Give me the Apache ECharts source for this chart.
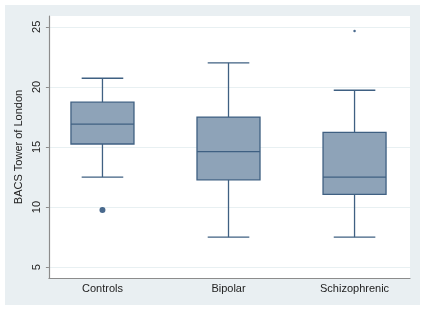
<!DOCTYPE html>
<html>
<head>
<meta charset="utf-8">
<script src="https://cdn.jsdelivr.net/npm/echarts@6/dist/echarts.min.js"></script>
<style>
    html, body { margin: 0; padding: 0; background: #fff; }
    #wrap { position: absolute; left: 0; top: 0; width: 426px; height: 311px; background: #fff; }
    #main { position: absolute; left: 5px; top: 5px; width: 415px; height: 300px; background: #e9eff2; }
</style>
</head>
<body>
<div id="wrap"><div id="main"></div></div>
<script>
// 数据
var categories = ['Controls', 'Bipolar', 'Schizophrenic'];
var lowWhisker = [12.5, 7.5, 7.5];
var q1 = [15.25, 12.27, 11.05];
var median = [16.9, 14.62, 12.5];
var q3 = [18.73, 17.49, 16.22];
var highWhisker = [20.72, 22.0, 19.72];
// [组序号, 数值]
var outliers = [[0, 9.75], [2, 24.65]];
var yTicks = [5, 10, 15, 20, 25];

var boxFill = '#8ea3b8';
var boxLine = '#3f6082';

init()

function init() {
    var myChart = echarts.init(document.getElementById('main'));

    var boxData = categories.map(function(c, i) {
        return [i + 1, lowWhisker[i], q1[i], median[i], q3[i], highWhisker[i]];
    });

    function renderBox(params, api) {
        var x = api.value(0);
        var halfBox = 0.25, halfCap = 0.165;
        var pLow = api.coord([x, api.value(1)]);
        var pQ1 = api.coord([x, api.value(2)]);
        var pMed = api.coord([x, api.value(3)]);
        var pQ3 = api.coord([x, api.value(4)]);
        var pHigh = api.coord([x, api.value(5)]);
        var left = api.coord([x - halfBox, 0])[0];
        var right = api.coord([x + halfBox, 0])[0];
        var capL = api.coord([x - halfCap, 0])[0];
        var capR = api.coord([x + halfCap, 0])[0];
        var ls = { stroke: boxLine, lineWidth: 1.3 };
        return {
            type: 'group',
            children: [
                { type: 'line', shape: { x1: pQ3[0], y1: pQ3[1], x2: pHigh[0], y2: pHigh[1] }, style: ls },
                { type: 'line', shape: { x1: pQ1[0], y1: pQ1[1], x2: pLow[0], y2: pLow[1] }, style: ls },
                { type: 'line', shape: { x1: capL, y1: pHigh[1], x2: capR, y2: pHigh[1] }, style: ls },
                { type: 'line', shape: { x1: capL, y1: pLow[1], x2: capR, y2: pLow[1] }, style: ls },
                { type: 'rect', shape: { x: left, y: pQ3[1], width: right - left, height: pQ1[1] - pQ3[1] },
                  style: { fill: boxFill, stroke: boxLine, lineWidth: 1.3 } },
                { type: 'line', shape: { x1: left, y1: pMed[1], x2: right, y2: pMed[1] }, style: ls }
            ]
        };
    }

    var option = {
        animation: false,
        grid: {
            left: 41, top: 11, width: 364, height: 262,
            show: true, backgroundColor: '#fff', borderWidth: 0
        },
        xAxis: {
            type: 'value',
            min: 0.575,
            max: 3.44,
            axisLine: { show: true, onZero: false, lineStyle: { color: '#8c8c8c', width: 1.2 } },
            axisTick: { show: false },
            splitLine: { show: false },
            axisLabel: {
                customValues: [1, 2, 3],
                formatter: function(v) { return categories[Math.round(v) - 1] || ''; },
                color: '#222',
                fontFamily: 'Liberation Sans',
                fontSize: 11,
                margin: 5
            }
        },
        yAxis: {
            type: 'value',
            min: 4.1,
            max: 25.9,
            name: 'BACS Tower of London',
            nameLocation: 'middle',
            nameGap: 20,
            nameTextStyle: { color: '#222', fontFamily: 'Liberation Sans', fontSize: 11 },
            axisLine: { show: true, lineStyle: { color: '#8c8c8c', width: 1.2 } },
            axisTick: { show: true, customValues: yTicks, length: 3, lineStyle: { color: '#8c8c8c' } },
            axisLabel: {
                customValues: yTicks,
                rotate: 90,
                color: '#222',
                fontFamily: 'Liberation Sans',
                fontSize: 11,
                margin: 6
            },
            splitLine: { show: true, lineStyle: { color: '#e8f0f2', width: 1.2 } }
        },
        series: [{
            type: 'custom',
            renderItem: renderBox,
            data: boxData,
            encode: { x: 0, y: [1, 2, 3, 4, 5] }
        }, {
            type: 'scatter',
            data: outliers.map(function(o) { return [o[0] + 1, o[1]]; }),
            symbolSize: function(v) { return v[0] === 1 ? 6 : 2.5; },
            itemStyle: { color: '#1c4470' }
        }]
    };
    myChart.setOption(option);
}
</script>
</body>
</html>
